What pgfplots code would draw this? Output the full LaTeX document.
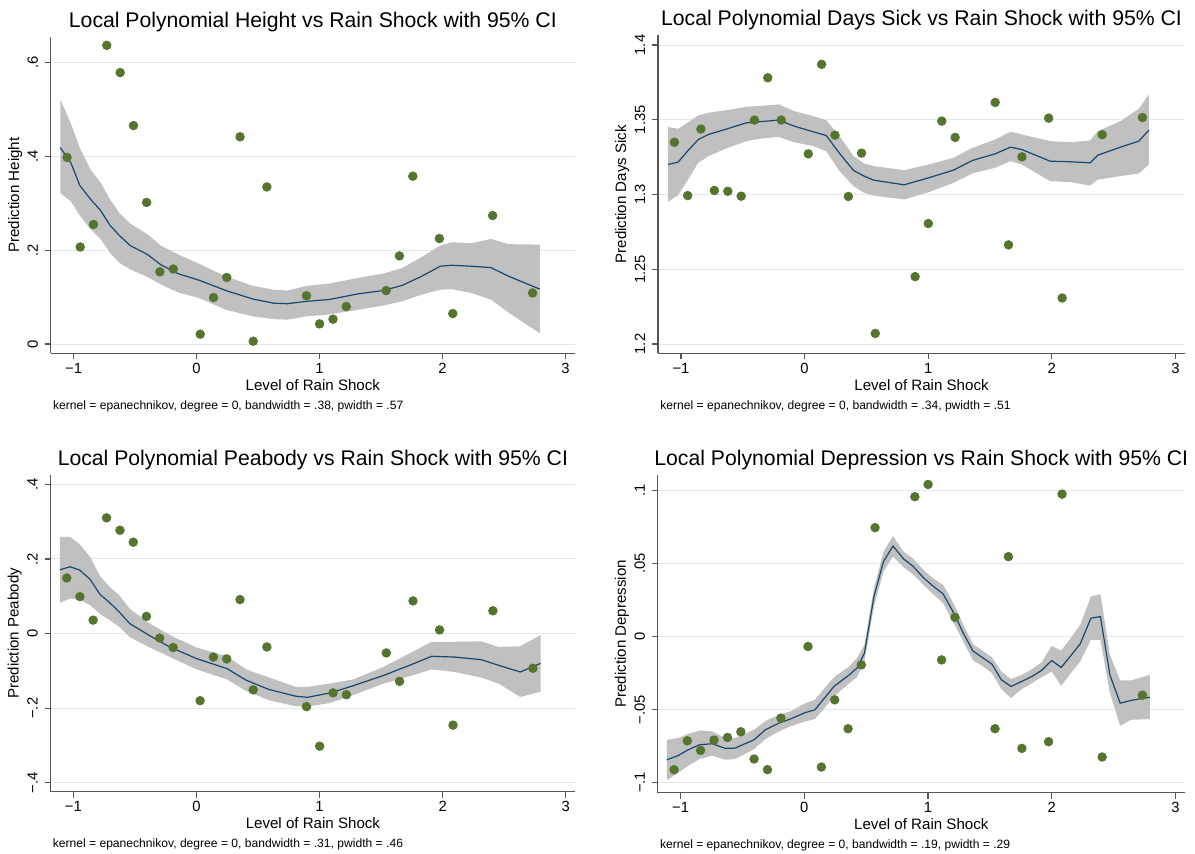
\documentclass[border=0pt]{standalone}
\usepackage{pgfplots}
\pgfplotsset{compat=1.18}
\usepackage{pgfplotstable}
\usepgfplotslibrary{fillbetween}
\usepackage{fontspec}
\setmainfont{Liberation Sans}

\definecolor{stgreen}{RGB}{85,117,47}
\definecolor{stnavy}{RGB}{26,71,111}
\definecolor{stci}{RGB}{192,192,192}
\definecolor{stgrid}{RGB}{222,232,237}
\definecolor{staxis}{RGB}{85,85,85}

% scatter points: rain shock level and the four outcomes
\pgfplotstableread{
x      h      s       p       d
-1.053 0.398  1.3350  0.149   -0.0913
-0.946 0.207  1.2993  0.099   -0.0715
-0.839 0.255  1.3438  0.036   -0.0781
-0.730 0.637  1.3027  0.310   -0.0710
-0.621 0.579  1.3022  0.277   -0.0692
-0.513 0.466  1.2989  0.245   -0.0653
-0.406 0.302  1.3498  0.046   -0.0840
-0.298 0.154  1.3781  -0.012  -0.0913
-0.189 0.160  1.3498  -0.0375 -0.0559
0.030  0.021  1.3272  -0.180  -0.0068
0.138  0.099  1.3871  -0.063  -0.0895
0.246  0.142  1.3397  -0.068  -0.0434
0.354  0.442  1.2987  0.091   -0.0632
0.461  0.006  1.3277  -0.151  -0.0194
0.572  0.335  1.2071  -0.036  0.0747
0.894  0.103  1.2451  -0.196  0.0959
1.001  0.043  1.2806  -0.302  0.1043
1.110  0.053  1.3491  -0.159  -0.0160
1.218  0.080  1.3382  -0.164  0.0132
1.542  0.114  1.3616  -0.052  -0.0632
1.650  0.188  1.2663  -0.128  0.0548
1.759  0.358  1.3252  0.0875  -0.0767
1.975  0.225  1.3511  0.0098  -0.0721
2.084  0.065  1.2308  -0.2455 0.0977
2.408  0.274  1.3400  0.061   -0.0826
2.733  0.109  1.3515  -0.093  -0.0402
}\pts

% lpoly fits with 95% CI
\pgfplotstableread{
x      fit   lo    hi
-1.108 0.419 0.322 0.522
-1.021 0.386 0.304 0.470
-0.949 0.338 0.274 0.418
-0.859 0.308 0.244 0.371
-0.781 0.285 0.224 0.345
-0.703 0.253 0.194 0.308
-0.626 0.231 0.173 0.279
-0.539 0.210 0.159 0.257
-0.399 0.191 0.143 0.234
-0.290 0.169 0.127 0.210
-0.149 0.150 0.110 0.191
0.022  0.136 0.098 0.171
0.240  0.114 0.073 0.144
0.458  0.096 0.059 0.124
0.629  0.087 0.053 0.116
0.738  0.086 0.052 0.114
0.893  0.091 0.059 0.124
1.080  0.095 0.063 0.129
1.314  0.107 0.073 0.141
1.516  0.114 0.082 0.150
1.672  0.125 0.091 0.162
1.827  0.144 0.105 0.185
1.983  0.166 0.116 0.210
2.076  0.168 0.117 0.217
2.232  0.166 0.109 0.215
2.394  0.163 0.095 0.224
2.543  0.144 0.066 0.213
2.792  0.117 0.023 0.212
}\fith

\pgfplotstableread{
x      fit    lo     hi
-1.106 1.3201 1.2951 1.3451
-1.023 1.3217 1.2996 1.3440
-0.940 1.3297 1.3105 1.3484
-0.860 1.3368 1.3212 1.3529
-0.777 1.3402 1.3257 1.3547
-0.624 1.3440 1.3312 1.3565
-0.470 1.3480 1.3357 1.3587
-0.363 1.3487 1.3373 1.3592
-0.209 1.3498 1.3386 1.3603
-0.086 1.3458 1.3350 1.3558
0.068  1.3420 1.3324 1.3525
0.175  1.3395 1.3290 1.3498
0.283  1.3275 1.3156 1.3391
0.396  1.3161 1.3056 1.3257
0.482  1.3123 1.3011 1.3208
0.559  1.3096 1.2993 1.3190
0.805  1.3065 1.2967 1.3163
1.005  1.3112 1.3016 1.3201
1.204  1.3163 1.3078 1.3246
1.358  1.3228 1.3141 1.3312
1.542  1.3272 1.3179 1.3368
1.665  1.3317 1.3223 1.3420
1.757  1.3301 1.3201 1.3402
1.988  1.3223 1.3089 1.3357
2.157  1.3219 1.3083 1.3350
2.310  1.3212 1.3060 1.3362
2.372  1.3263 1.3100 1.3424
2.556  1.3317 1.3123 1.3491
2.704  1.3357 1.3141 1.3574
2.786  1.3431 1.3201 1.3670
}\fits

\pgfplotstableread{
x      fit    lo     hi
-1.109 0.171  0.083  0.259
-1.025 0.179  0.094  0.259
-0.947 0.170  0.091  0.239
-0.863 0.145  0.076  0.205
-0.783 0.105  0.052  0.154
-0.705 0.083  0.036  0.125
-0.627 0.058  0.018  0.103
-0.543 0.027  -0.009 0.067
-0.388 -0.004 -0.036 0.029
-0.217 -0.036 -0.0625 -0.004
0.000  -0.067 -0.096 -0.0375
0.248  -0.094 -0.123 -0.061
0.404  -0.125 -0.154 -0.096
0.590  -0.150 -0.179 -0.118
0.807  -0.168 -0.195 -0.143
0.901  -0.171 -0.196 -0.143
1.087  -0.159 -0.186 -0.134
1.273  -0.140 -0.165 -0.123
1.522  -0.112 -0.134 -0.089
1.755  -0.082 -0.112 -0.049
1.910  -0.061 -0.096 -0.022
2.096  -0.063 -0.103 -0.022
2.314  -0.070 -0.118 -0.021
2.453  -0.085 -0.134 -0.036
2.630  -0.103 -0.170 -0.034
2.795  -0.080 -0.156 -0.004
}\fitp

\pgfplotstableread{
x      fit     lo      hi
-1.111 -0.0845 -0.0986 -0.0708
-1.022 -0.0817 -0.0936 -0.0696
-0.938 -0.0776 -0.0886 -0.0667
-0.846 -0.0742 -0.0840 -0.0644
-0.745 -0.0735 -0.0817 -0.0651
-0.637 -0.0767 -0.0845 -0.0696
-0.560 -0.0765 -0.0840 -0.0696
-0.406 -0.0708 -0.0772 -0.0639
-0.314 -0.0639 -0.0703 -0.0578
-0.206 -0.0594 -0.0651 -0.0537
-0.114 -0.0566 -0.0616 -0.0514
0.009  -0.0521 -0.0582 -0.0457
0.086  -0.0502 -0.0566 -0.0434
0.163  -0.0422 -0.0491 -0.0354
0.240  -0.0342 -0.0411 -0.0279
0.363  -0.0263 -0.0320 -0.0205
0.425  -0.0217 -0.0279 -0.0148
0.486  -0.0114 -0.0171 -0.0057
0.563  0.0274  0.0205  0.0333
0.640  0.0514  0.0445  0.0582
0.717  0.0621  0.0548  0.0689
0.803  0.0532  0.0475  0.0582
0.877  0.0484  0.0429  0.0537
0.963  0.0404  0.0354  0.0457
1.040  0.0347  0.0292  0.0400
1.123  0.0292  0.0228  0.0354
1.209  0.0160  0.0091  0.0224
1.286  0.0023  -0.0034 0.0080
1.363  -0.0098 -0.0164 -0.0050
1.440  -0.0144 -0.0201 -0.0096
1.517  -0.0189 -0.0251 -0.0142
1.594  -0.0297 -0.0361 -0.0240
1.671  -0.0342 -0.0422 -0.0292
1.757  -0.0308 -0.0361 -0.0263
1.840  -0.0274 -0.0320 -0.0224
1.917  -0.0233 -0.0279 -0.0178
2.000  -0.0164 -0.0240 -0.0064
2.077  -0.0212 -0.0338 -0.0096
2.154  -0.0132 -0.0251 -0.0011
2.231  -0.0050 -0.0171 0.0080
2.317  0.0126  -0.0023 0.0274
2.394  0.0137  -0.0023 0.0292
2.471  -0.0263 -0.0388 -0.0126
2.554  -0.0457 -0.0612 -0.0301
2.640  -0.0438 -0.0571 -0.0301
2.794  -0.0416 -0.0566 -0.0263
}\fitd

\pgfplotsset{
  stpanel/.style={
    scale only axis,
    axis x line*=bottom, axis y line*=left,
    xmin=-1.186, xmax=3.078,
    xtick={-1,0,1,2,3}, xticklabels={−1,0,1,2,3},
    tick align=outside, major tick length=2.9pt,
    axis line style={draw=staxis, line width=0.6pt},
    major tick style={draw=staxis, line width=0.6pt},
    ymajorgrids, major grid style={draw=stgrid, line width=0.5pt},
    tick label style={font=\fontsize{7.4}{8}\selectfont},
    xticklabel style={anchor=base},
    yticklabel style={rotate=90, anchor=base},
    xticklabel shift=7.1pt, yticklabel shift=3.5pt,
    every axis title shift=0pt,
    title style={font=\fontsize{10.6}{12}\selectfont, at={(axis description cs:0.5,1.03)}, anchor=base},
    every axis x label/.style={at={(axis description cs:0.5,-0.116)}, anchor=base, font=\fontsize{7.55}{9}\selectfont},
    every axis y label/.style={at={(axis description cs:-0.0603,0.5)}, rotate=90, anchor=base, font=\fontsize{7.55}{9}\selectfont},
    xlabel={Level of Rain Shock},
  },
  cifill/.style={fill=stci, draw=none},
  fitline/.style={draw=stnavy, line width=0.6pt, no marks},
  greendots/.style={only marks, mark=*, mark size=2.15pt, mark options={draw=stgreen, fill=stgreen}},
}

\tikzset{note/.style={anchor=base west, inner sep=0pt, font=\fontsize{6.05}{7}\selectfont}}

\begin{document}
\begin{tikzpicture}

% Height
\begin{axis}[stpanel, name=p1, at={(25.35pt,-176.65pt)}, anchor=south west,
  width=262.15pt, height=158.3pt,
  ymin=-0.0198, ymax=0.6555,
  ytick={0,0.2,0.4,0.6}, yticklabels={0,.2,.4,.6},
  ylabel={Prediction Height},
  title={Local Polynomial Height vs Rain Shock with 95\% CI}]
\addplot[name path=hi, draw=none] table[x=x, y=hi]{\fith};
\addplot[name path=lo, draw=none] table[x=x, y=lo]{\fith};
\addplot[cifill] fill between[of=hi and lo];
\addplot[fitline] table[x=x, y=fit]{\fith};
\addplot[greendots] table[x=x, y=h]{\pts};
\end{axis}
\node[note] at ([xshift=1pt, yshift=-28pt]p1.south west)
  {kernel = epanechnikov, degree = 0, bandwidth = .38, pwidth = .57};

% Days sick
\begin{axis}[stpanel, name=p2, at={(329pt,-176.65pt)}, anchor=south west,
  width=263.5pt, height=159.15pt,
  ymin=1.1938, ymax=1.4067,
  ytick={1.2,1.25,1.3,1.35,1.4}, yticklabels={1.2,1.25,1.3,1.35,1.4},
  ylabel={Prediction Days Sick},
  title={Local Polynomial Days Sick vs Rain Shock with 95\% CI}]
\addplot[name path=hi, draw=none] table[x=x, y=hi]{\fits};
\addplot[name path=lo, draw=none] table[x=x, y=lo]{\fits};
\addplot[cifill] fill between[of=hi and lo];
\addplot[fitline] table[x=x, y=fit]{\fits};
\addplot[greendots] table[x=x, y=s]{\pts};
\end{axis}
\node[note] at ([xshift=1pt, yshift=-28pt]p2.south west)
  {kernel = epanechnikov, degree = 0, bandwidth = .34, pwidth = .51};

% Peabody
\begin{axis}[stpanel, name=p3, at={(25.2pt,-395.85pt)}, anchor=south west,
  width=262.5pt, height=158.35pt,
  ymin=-0.424, ymax=0.425,
  ytick={-0.4,-0.2,0,0.2,0.4}, yticklabels={−.4,−.2,0,.2,.4},
  ylabel={Prediction Peabody},
  title={Local Polynomial Peabody vs Rain Shock with 95\% CI}]
\addplot[name path=hi, draw=none] table[x=x, y=hi]{\fitp};
\addplot[name path=lo, draw=none] table[x=x, y=lo]{\fitp};
\addplot[cifill] fill between[of=hi and lo];
\addplot[fitline] table[x=x, y=fit]{\fitp};
\addplot[greendots] table[x=x, y=p]{\pts};
\end{axis}
\node[note] at ([xshift=1pt, yshift=-28pt]p3.south west)
  {kernel = epanechnikov, degree = 0, bandwidth = .31, pwidth = .46};

% Depression
\begin{axis}[stpanel, name=p4, at={(328.8pt,-396.35pt)}, anchor=south west,
  width=263.7pt, height=158.85pt,
  ymin=-0.1071, ymax=0.1108,
  ytick={-0.1,-0.05,0,0.05,0.1}, yticklabels={−.1,−.05,0,.05,.1},
  ylabel={Prediction Depression},
  title={Local Polynomial Depression vs Rain Shock with 95\% CI}]
\addplot[name path=hi, draw=none] table[x=x, y=hi]{\fitd};
\addplot[name path=lo, draw=none] table[x=x, y=lo]{\fitd};
\addplot[cifill] fill between[of=hi and lo];
\addplot[fitline] table[x=x, y=fit]{\fitd};
\addplot[greendots] table[x=x, y=d]{\pts};
\end{axis}
\node[note] at ([xshift=1pt, yshift=-28pt]p4.south west)
  {kernel = epanechnikov, degree = 0, bandwidth = .19, pwidth = .29};

% fix the page to the reference's frame
\pgfresetboundingbox
\path (0pt,0pt) rectangle (597.5pt,-426.5pt);
\end{tikzpicture}
\end{document}
